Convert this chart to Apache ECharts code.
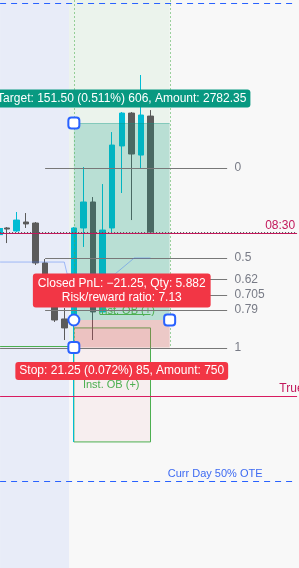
<!DOCTYPE html>
<html>
<head>
<meta charset="utf-8">
<script src="https://cdn.jsdelivr.net/npm/echarts@6/dist/echarts.min.js"></script>
<style>
  html, body { margin: 0; padding: 0; background: #f8f8f8; }
  #chart { width: 299px; height: 568px; }
</style>
</head>
<body>
<div id="chart"></div>
<script>
// bar slots (16 candles + empty future space)
const times = ['08:16', '08:17', '08:18', '08:19', '08:20', '08:21', '08:22', '08:23',
  '08:24', '08:25', '08:26', '08:27', '08:28', '08:29', '08:30', '08:31',
  '08:32', '08:33', '08:34', '08:35', '08:36', '08:37', '08:38', '08:39',
  '08:40', '08:41', '08:42', '08:43', '08:44', '08:45', '08:46']

// [open, close, low, high]
const candles = [
  [29718.8, 29718.0, 29707.2, 29719.5],
  [29716.5, 29724.9, 29715.7, 29731.1],
  [29723.4, 29721.9, 29718.8, 29730.3],
  [29722.6, 29691.9, 29690.3, 29723.4],
  [29691.9, 29671.1, 29669.5, 29694.9],
  [29669.5, 29648.0, 29646.5, 29671.1],
  [29648.8, 29641.9, 29632.6, 29657.2],
  [29649.5, 29718.8, 29554.2, 29719.5],
  [29718.8, 29738.8, 29704.2, 29765.7],
  [29738.8, 29654.2, 29632.6, 29742.6],
  [29654.2, 29717.2, 29653.4, 29752.6],
  [29718.8, 29782.6, 29715.7, 29792.6],
  [29781.9, 29807.2, 29745.7, 29808.0],
  [29807.2, 29775.7, 29724.9, 29808.0],
  [29774.9, 29805.7, 29764.9, 29836.5],
  [29804.9, 29715.7, 29715.7, 29809.5]
]
// previous bar, only its right edge shows at the left border
const edgeCandle = { bar: -0.75, open: 29713.3, close: 29718.8 }

const priceMin = 29457.2
const priceMax = 29894.2

// long position tool
const entryPrice = 29648.00
const targetPrice = 29799.50
const stopPrice = 29626.75
const positionBars = [7, 17]
const sessionBars = [-0.7, 6.5]
const targetText = 'Target: 151.50 (0.511%) 606, Amount: 2782.35'
const pnlText = 'Closed PnL: \u221221.25, Qty: 5.882\nRisk/reward ratio: 7.13'
const stopText = 'Stop: 21.25 (0.072%) 85, Amount: 750'

// fib retracement
const fibLevels = ['0', '0.5', '0.62', '0.705', '0.79', '1']
const fibPrices = [29764.9, 29695.8, 29679.3, 29667.5, 29655.8, 29626.75]
const fibBars = [4, 23]
const fibLabelBar = 23.78

// horizontal levels
const openLevel = { label: '08:30', price: 29714.9, priceLine: 29716.0, labelBar: 30.1 }
const trueDayOpen = { label: 'True Day Open', price: 29589.5, labelBar: 28.45 }
const oteLines = [29891.6, 29524.2]
const oteLabel = { label: 'Curr Day 50% OTE', bar: 21.75 }

// order blocks
const instOB = { bars: [7, 15], top: 29641.9, bottom: 29554.2, label: 'Inst. OB (+)', labelBar: 10.9, labelPrice: 29598.0 }
const instOB2 = { bars: [9.7, 15], price: 29652.4, labelBar: 12.5, labelPrice: 29655.2 }
const obLine = { bars: [-0.7, 7], price: 29628.0 }

// indicator line [bar, price]
const indicator = [[-0.7, 29692.6], [6, 29692.6], [6.3, 29683.4], [11.3, 29683.4], [13.3, 29695.7], [15, 29695.7]]

const FONT = '"Liberation Sans", Arial, sans-serif'
const chart = echarts.init(document.getElementById('chart'))

function helpers(api) {
  const pt = (x, p) => api.coord([x, p])
  const rect = (x0, x1, p0, p1, style) => {
    const a = pt(x0, p0), b = pt(x1, p1)
    return {
      type: 'rect',
      shape: { x: Math.min(a[0], b[0]), y: Math.min(a[1], b[1]), width: Math.abs(b[0] - a[0]), height: Math.abs(b[1] - a[1]) },
      style
    }
  }
  const hline = (x0, x1, p, style) => {
    const a = pt(x0, p), b = pt(x1, p)
    return { type: 'line', shape: { x1: a[0], y1: Math.round(a[1]) + 0.5, x2: b[0], y2: Math.round(b[1]) + 0.5 }, style }
  }
  const vline = (x, p0, p1, style) => {
    const a = pt(x, p0), b = pt(x, p1)
    return { type: 'line', shape: { x1: Math.round(a[0]) + 0.5, y1: a[1], x2: Math.round(b[0]) + 0.5, y2: b[1] }, style }
  }
  const text = (x, p, str, style, dy) => {
    const a = pt(x, p)
    return { type: 'text', x: a[0], y: a[1] + (dy || 0), style: Object.assign({ text: str, fontFamily: FONT, fontSize: 12 }, style) }
  }
  return { pt, rect, hline, vline, text }
}

function renderBackdrop(params, api) {
  const h = helpers(api)
  return {
    type: 'group',
    children: [
      h.rect(sessionBars[0], sessionBars[1], priceMax, priceMin, { fill: '#e8ecf8' }),
      h.rect(sessionBars[1], positionBars[1], priceMax, stopPrice, { fill: '#ebf3ec' }),
      h.rect(instOB.bars[0], instOB.bars[1], instOB.top, instOB.bottom, { fill: 'rgba(242,54,69,0.05)', stroke: '#4caf50', lineWidth: 1 }),
      h.rect(edgeCandle.bar - 0.35, edgeCandle.bar + 0.35, edgeCandle.open, edgeCandle.close, { fill: '#00bcd4' })
    ]
  }
}

function renderOverlay(params, api) {
  const h = helpers(api)
  const kids = []
  const left = positionBars[0], right = positionBars[1]
  kids.push(h.rect(left, right, targetPrice, entryPrice, { fill: 'rgba(8,153,129,0.22)' }))
  kids.push(h.rect(left, right, entryPrice, stopPrice, { fill: 'rgba(242,54,69,0.22)' }))
  kids.push(h.hline(left, right, targetPrice, { stroke: 'rgba(8,153,129,0.3)', lineWidth: 1 }))
  kids.push(h.vline(left, priceMax, stopPrice, { stroke: 'rgba(76,175,80,0.55)', lineWidth: 1, lineDash: [2, 2] }))
  kids.push(h.vline(right, priceMax, stopPrice, { stroke: 'rgba(76,175,80,0.55)', lineWidth: 1, lineDash: [2, 2] }))

  // order block extras
  kids.push(h.hline(obLine.bars[0], obLine.bars[1], obLine.price, { stroke: '#4caf50', lineWidth: 1 }))
  kids.push(h.hline(instOB2.bars[0], instOB2.bars[1], instOB2.price, { stroke: '#4caf50', lineWidth: 1 }))
  kids.push(h.text(instOB2.labelBar, instOB2.labelPrice, instOB.label, { fill: '#4caf50', fontSize: 11, align: 'center', verticalAlign: 'middle' }))
  kids.push(h.text(instOB.labelBar, instOB.labelPrice, instOB.label, { fill: '#4caf50', fontSize: 11, align: 'center', verticalAlign: 'middle' }))

  // fib levels
  fibPrices.forEach((p, i) => {
    const x0 = i === fibPrices.length - 1 ? -0.7 : fibBars[0]
    kids.push(h.hline(x0, fibBars[1], p, { stroke: '#787878', lineWidth: 1 }))
    kids.push(h.text(fibLabelBar, p, fibLevels[i], { fill: '#787b86', fontSize: 12, align: 'left', verticalAlign: 'middle' }))
  })

  // indicator
  kids.push({
    type: 'polyline',
    shape: { points: indicator.map(d => h.pt(d[0], d[1])) },
    style: { stroke: 'rgba(66,120,245,0.45)', lineWidth: 1, fill: null }
  })

  // horizontal levels
  kids.push(h.hline(-0.7, 30.3, openLevel.priceLine, { stroke: '#555', lineWidth: 1, lineDash: [1, 2] }))
  kids.push(h.hline(-0.7, 30.3, openLevel.price, { stroke: '#c2185b', lineWidth: 1 }))
  kids.push(h.text(openLevel.labelBar, openLevel.priceLine, openLevel.label, { fill: '#c2185b', fontSize: 12, align: 'right', verticalAlign: 'bottom' }, 0))
  kids.push(h.hline(-0.7, 30.3, trueDayOpen.price, { stroke: '#d81b60', lineWidth: 1 }))
  kids.push(h.text(trueDayOpen.labelBar, trueDayOpen.price, trueDayOpen.label, { fill: '#c2185b', fontSize: 12, align: 'left', verticalAlign: 'bottom' }, -1))
  oteLines.forEach(p => kids.push(h.hline(-0.7, 30.3, p, { stroke: '#2962ff', lineWidth: 1.2, lineDash: [6, 5] })))
  kids.push(h.text(oteLabel.bar, oteLines[1], oteLabel.label, { fill: '#3d6af2', fontSize: 11, align: 'center', verticalAlign: 'bottom' }, -1))

  return { type: 'group', children: kids }
}

function renderLabels(params, api) {
  const h = helpers(api)
  const mid = (positionBars[0] + positionBars[1]) / 2
  const box = (bg) => ({ fill: '#fff', fontSize: 12, align: 'center', verticalAlign: 'middle', backgroundColor: bg, padding: [2, 4], borderRadius: 3, lineHeight: 14 })
  const handle = (x, p) => {
    const a = h.pt(x, p)
    return { type: 'rect', shape: { x: a[0] - 5.5, y: a[1] - 5.5, width: 11, height: 11, r: 3 }, style: { fill: '#fff', stroke: '#2962ff', lineWidth: 2 } }
  }
  const e = h.pt(positionBars[0], entryPrice)
  return {
    type: 'group',
    children: [
      h.text(mid, targetPrice, targetText, box('#089981'), -24.5),
      h.text(mid, entryPrice, pnlText, Object.assign(box('#f23645'), { padding: [3, 5] }), -29.5),
      h.text(mid, stopPrice, stopText, box('#f23645'), 23.5),
      handle(positionBars[0], targetPrice),
      handle(positionBars[1], entryPrice),
      handle(positionBars[0], stopPrice),
      { type: 'circle', shape: { cx: e[0], cy: e[1], r: 5.5 }, style: { fill: '#fff', stroke: '#2962ff', lineWidth: 2 } }
    ]
  }
}

const option = {
  animation: false,
  backgroundColor: '#f8f8f8',
  grid: { left: 2, top: 0, width: 300, height: 568 },
  xAxis: [
    { type: 'category', data: times, show: false, boundaryGap: true },
    { type: 'value', min: -0.5, max: times.length - 0.5, show: false }
  ],
  yAxis: { type: 'value', min: priceMin, max: priceMax, show: false },
  series: [
    { type: 'custom', z: 1, xAxisIndex: 1, clip: false, renderItem: renderBackdrop, data: [[0, entryPrice]], silent: true },
    {
      type: 'candlestick',
      z: 2,
      xAxisIndex: 0,
      data: candles,
      barWidth: 6,
      itemStyle: { color: '#00bcd4', color0: '#5b5b5b', borderColor: '#00bcd4', borderColor0: '#5b5b5b', borderWidth: 1 }
    },
    { type: 'custom', z: 3, xAxisIndex: 1, clip: false, renderItem: renderOverlay, data: [[0, entryPrice]], silent: true },
    { type: 'custom', z: 4, xAxisIndex: 1, clip: false, renderItem: renderLabels, data: [[0, entryPrice]], silent: true }
  ]
}

chart.setOption(option)
</script>
</body>
</html>
